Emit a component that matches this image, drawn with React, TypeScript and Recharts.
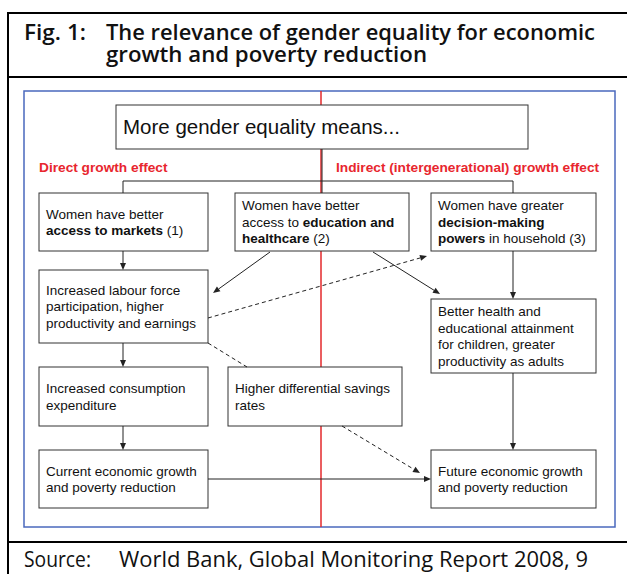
import React from 'react';
import {
  ComposedChart,
  XAxis,
  YAxis,
  Scatter,
  ReferenceArea,
  ReferenceLine,
} from 'recharts';

type Seg = { t: string; b?: boolean };
type Pt = [number, number];

// diagram coordinate space = page pixels (0..627 x 0..574)
const boxNames = [
  'equality', 'markets', 'education', 'decision', 'labour',
  'health', 'consumption', 'savings', 'current', 'future',
];
const boxCorners: [number, number, number, number][] = [
  [116, 105, 528, 149],
  [39, 193, 208, 251],
  [235, 193, 409, 251],
  [431, 193, 596, 251],
  [39, 270, 208, 343],
  [431, 299, 596, 373],
  [39, 367, 208, 426],
  [228, 367, 402, 426],
  [39, 450, 208, 508],
  [431, 450, 596, 508],
];
const boxText: Seg[][][] = [
  [[{ t: 'More gender equality means...' }]],
  [[{ t: 'Women have better' }], [{ t: 'access to markets', b: true }, { t: ' (1)' }]],
  [
    [{ t: 'Women have better' }],
    [{ t: 'access to ' }, { t: 'education and', b: true }],
    [{ t: 'healthcare', b: true }, { t: ' (2)' }],
  ],
  [
    [{ t: 'Women have greater' }],
    [{ t: 'decision-making', b: true }],
    [{ t: 'powers', b: true }, { t: ' in household (3)' }],
  ],
  [
    [{ t: 'Increased labour force' }],
    [{ t: 'participation, higher' }],
    [{ t: 'productivity and earnings' }],
  ],
  [
    [{ t: 'Better health and' }],
    [{ t: 'educational attainment' }],
    [{ t: 'for children, greater' }],
    [{ t: 'productivity as adults' }],
  ],
  [[{ t: 'Increased consumption' }], [{ t: 'expenditure' }]],
  [[{ t: 'Higher differential savings' }], [{ t: 'rates' }]],
  [[{ t: 'Current economic growth' }], [{ t: 'and poverty reduction' }]],
  [[{ t: 'Future economic growth' }], [{ t: 'and poverty reduction' }]],
];

// connectors: from, to, dashed, arrow head
const links: { from: Pt; to: Pt; dashed?: boolean; head?: boolean }[] = [
  { from: [322, 149], to: [322, 193] },
  { from: [123, 181], to: [513, 181] },
  { from: [123, 181], to: [123, 193] },
  { from: [513, 181], to: [513, 193] },
  { from: [123, 251], to: [123, 270], head: true },
  { from: [270, 252], to: [213, 293], head: true },
  { from: [373, 252], to: [440, 294], head: true },
  { from: [513, 251], to: [513, 299], head: true },
  { from: [123, 343], to: [123, 367], head: true },
  { from: [123, 426], to: [123, 450], head: true },
  { from: [513, 373], to: [513, 450], head: true },
  { from: [208, 479], to: [431, 479], head: true },
  { from: [208, 318], to: [427, 256], dashed: true, head: true },
  { from: [208, 343], to: [247, 367], dashed: true },
  { from: [342, 426], to: [420, 473], dashed: true, head: true },
];

// frame rules of the figure panel
const frameRules: [Pt, Pt][] = [
  [[7, 13], [627, 13]],
  [[8, 12], [8, 574]],
  [[8, 77], [627, 77]],
  [[8, 542], [627, 542]],
];
const panel: [number, number, number, number] = [24, 91, 615, 527];
const dividerX = 321;

const captions = [
  { x: 24, y: 40, text: 'Fig. 1:', kind: 'title' },
  { x: 106, y: 40, text: 'The relevance of gender equality for economic', kind: 'title' },
  { x: 106, y: 62, text: 'growth and poverty reduction', kind: 'title' },
  { x: 39, y: 172, text: 'Direct growth effect', kind: 'red' },
  { x: 336, y: 172, text: 'Indirect (intergenerational) growth effect', kind: 'red' },
  { x: 24, y: 567, text: 'Source:', kind: 'source' },
  { x: 119, y: 567, text: 'World Bank, Global Monitoring Report 2008, 9', kind: 'source' },
];

const ARIAL = 'Liberation Sans, Arial, sans-serif';
const HUMAN = 'Open Sans, sans-serif';

const captionStyle: Record<string, any> = {
  title: { fontFamily: HUMAN, fontSize: 21.5, fontWeight: 600, fill: '#111' },
  red: { fontFamily: ARIAL, fontSize: 13.7, fontWeight: 700, fill: '#e8262e' },
  source: { fontFamily: HUMAN, fontSize: 22, fontWeight: 400, fill: '#111' },
};
// rendered width of the humanist captions (the original font is wider)
const captionFit: Record<string, number> = {
  'Fig. 1:': 62,
  'The relevance of gender equality for economic': 489,
  'growth and poverty reduction': 321,
  'Source:': 67,
  'World Bank, Global Monitoring Report 2008, 9': 469,
};

const Caption = (props: any) => {
  const { cx, cy, payload } = props;
  const fit = captionFit[payload.text];
  return (
    <text
      x={cx}
      y={cy}
      {...captionStyle[payload.kind]}
      textLength={fit}
      lengthAdjust={fit ? 'spacingAndGlyphs' : undefined}
    >
      {payload.text}
    </text>
  );
};

const makeBox = (lines: Seg[][], big: boolean) => (props: any) => {
  const { x, y, width, height } = props;
  const fs = big ? 20.5 : 13.5;
  const lh = 16.6;
  const first = y + height / 2 - ((lines.length - 1) * lh) / 2;
  return (
    <g>
      <rect x={x} y={y} width={width} height={height} fill="#fff" stroke="#333" strokeWidth={1} />
      {lines.map((ln, i) => (
        <text
          key={i}
          x={x + 7}
          y={first + i * lh + fs * 0.36}
          fontFamily={ARIAL}
          fontSize={fs}
          fill="#111"
        >
          {ln.map((s, j) => (
            <tspan key={j} fontWeight={s.b ? 700 : 400}>
              {s.t}
            </tspan>
          ))}
        </text>
      ))}
    </g>
  );
};

// blue panel with the red split line, drawn beneath the boxes
const Panel = (props: any) => {
  const { x, y, width, height } = props;
  const midX = x + ((dividerX - panel[0]) / (panel[2] - panel[0])) * width;
  return (
    <g>
      <rect x={x} y={y} width={width} height={height} fill="none" stroke="#4a68bd" strokeWidth={1.5} />
      <line x1={midX} y1={y} x2={midX} y2={y + height} stroke="#e3282b" strokeWidth={1.5} />
    </g>
  );
};

const makeLink = (dashed?: boolean, head?: boolean) => (props: any) => {
  const { x1, y1, x2, y2 } = props;
  const ang = Math.atan2(y2 - y1, x2 - x1);
  const len = 7;
  const half = 3;
  const bx = x2 - len * Math.cos(ang);
  const by = y2 - len * Math.sin(ang);
  const px = -Math.sin(ang) * half;
  const py = Math.cos(ang) * half;
  return (
    <g>
      <line
        x1={x1}
        y1={y1}
        x2={head ? bx : x2}
        y2={head ? by : y2}
        stroke="#222"
        strokeWidth={1}
        strokeDasharray={dashed ? '4 3' : undefined}
      />
      {head && (
        <polygon
          points={`${x2},${y2} ${bx + px},${by + py} ${bx - px},${by - py}`}
          fill="#222"
        />
      )}
    </g>
  );
};

const plainLine = (color: string, w: number) => (props: any) => (
  <line x1={props.x1} y1={props.y1} x2={props.x2} y2={props.y2} stroke={color} strokeWidth={w} />
);

export default function App() {
  return (
    <div style={{ position: 'absolute', left: 0, top: 0, width: 627, height: 574, background: '#fff' }}>
      <ComposedChart width={627} height={574} margin={{ top: 0, right: 0, bottom: 0, left: 0 }}>
        <XAxis type="number" dataKey="x" domain={[0, 627]} allowDataOverflow hide />
        <YAxis type="number" dataKey="y" domain={[0, 574]} allowDataOverflow reversed hide />

        <ReferenceArea
          x1={panel[0]}
          x2={panel[2]}
          y1={panel[1]}
          y2={panel[3]}
          ifOverflow="visible"
          shape={Panel}
        />

        {boxNames.map((name, i) => (
          <ReferenceArea
            key={name}
            x1={boxCorners[i][0]}
            y1={boxCorners[i][1]}
            x2={boxCorners[i][2]}
            y2={boxCorners[i][3]}
            ifOverflow="visible"
            shape={makeBox(boxText[i], i === 0)}
          />
        ))}

        {frameRules.map(([a, b], i) => (
          <ReferenceLine
            key={`f${i}`}
            segment={[{ x: a[0], y: a[1] }, { x: b[0], y: b[1] }]}
            ifOverflow="visible"
            shape={plainLine('#000', 2)}
          />
        ))}

        {links.map((l, i) => (
          <ReferenceLine
            key={`l${i}`}
            segment={[{ x: l.from[0], y: l.from[1] }, { x: l.to[0], y: l.to[1] }]}
            ifOverflow="visible"
            shape={makeLink(l.dashed, l.head)}
          />
        ))}

        <Scatter data={captions} dataKey="y" shape={Caption} isAnimationActive={false} />
      </ComposedChart>
    </div>
  );
}
